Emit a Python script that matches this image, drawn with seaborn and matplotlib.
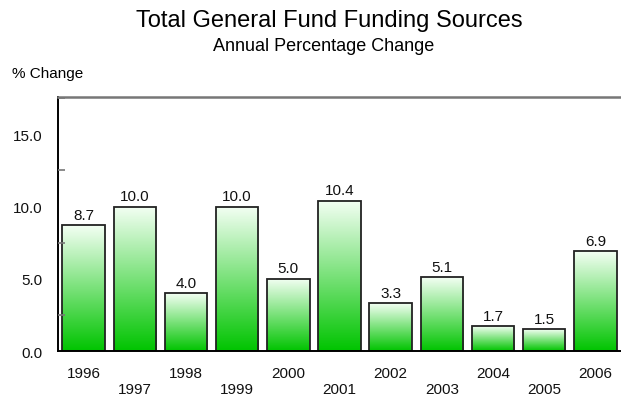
import numpy as np
import pandas as pd
import matplotlib
matplotlib.use("Agg")
import matplotlib.pyplot as plt
from matplotlib.colors import LinearSegmentedColormap
from matplotlib.ticker import MultipleLocator
import seaborn as sns

# Annual percentage change in total general fund funding sources
years = ["1996", "1997", "1998", "1999", "2000", "2001",
         "2002", "2003", "2004", "2005", "2006"]
pct_change = [8.7, 10.0, 4.0, 10.0, 5.0, 10.4, 3.3, 5.1, 1.7, 1.5, 6.9]
value_labels = ["8.7", "10.0", "4.0", "10.0", "5.0", "10.4",
                "3.3", "5.1", "1.7", "1.5", "6.9"]
y_ticks = [0.0, 5.0, 10.0, 15.0]
y_tick_labels = ["0.0", "5.0", "10.0", "15.0"]

sns.set_theme(style="white")
plt.rcParams["font.family"] = ["Liberation Sans", "DejaVu Sans"]

df = pd.DataFrame({"year": years, "change": pct_change})

fig = plt.figure(figsize=(6.21, 4.06), dpi=100)
ax = fig.add_axes([58 / 621, 1 - 352 / 406, 1 - 58 / 621, (352 - 97.7) / 406])

sns.barplot(data=df, x="year", y="change", ax=ax, width=0.83,
            color="white", edgecolor="#222222", linewidth=1.3,
            saturation=1, zorder=2)

# white-to-green vertical gradient inside each bar
grad_cmap = LinearSegmentedColormap.from_list(
    "bar_green", ["#00c400", "#f4fff4"])
grad = np.linspace(0, 1, 256).reshape(-1, 1)
for patch in ax.patches:
    x0, y0 = patch.get_x(), patch.get_y()
    w, h = patch.get_width(), patch.get_height()
    patch.set_facecolor("none")
    ax.imshow(grad, cmap=grad_cmap, origin="lower", aspect="auto",
              extent=(x0, x0 + w, y0, y0 + h), zorder=1.9,
              interpolation="bilinear")

# value labels above bars
for i, (v, lab) in enumerate(zip(pct_change, value_labels)):
    ax.annotate(lab, (i, v), xytext=(0, 2.5), textcoords="offset points",
                ha="center", va="bottom", fontsize=11, color="#111111",
                zorder=3)

ax.set_xlim(-0.5, len(years) - 0.5)
ax.set_ylim(0, 17.6)
ax.set_axisbelow(False)

# staggered year labels
ax.set_xticks(range(len(years)))
ax.set_xticklabels([y if i % 2 == 0 else "\n" + y for i, y in enumerate(years)],
                   fontsize=11, linespacing=1.2)
ax.set_yticks(y_ticks)
ax.set_yticklabels(y_tick_labels, fontsize=11)
ax.yaxis.set_minor_locator(MultipleLocator(2.5))

ax.tick_params(axis="x", direction="in", length=8, width=1.2,
               color="#333333", pad=11, labelcolor="#111111")
ax.tick_params(axis="y", which="major", direction="in", length=8, width=1.2,
               color="#111111", pad=11, labelcolor="#111111")
ax.tick_params(axis="y", which="minor", direction="in", length=5, width=1.2,
               color="#777777", left=True)

ax.set_xlabel("")
ax.set_ylabel("")
ax.grid(False)

for side in ["left", "bottom"]:
    ax.spines[side].set_color("#000000")
    ax.spines[side].set_linewidth(1.4)
ax.spines["top"].set_color("#777777")
ax.spines["top"].set_linewidth(1.8)
ax.spines["right"].set_visible(False)

fig.text(0.531, 1 - 27 / 406, "Total General Fund Funding Sources",
         ha="center", va="baseline", fontsize=17, color="#000000")
fig.text(0.521, 1 - 51 / 406, "Annual Percentage Change",
         ha="center", va="baseline", fontsize=13, color="#000000")
fig.text(12.5 / 621, 1 - 78 / 406, "% Change",
         ha="left", va="baseline", fontsize=11, color="#000000")

fig.savefig("out.png", dpi=100)
